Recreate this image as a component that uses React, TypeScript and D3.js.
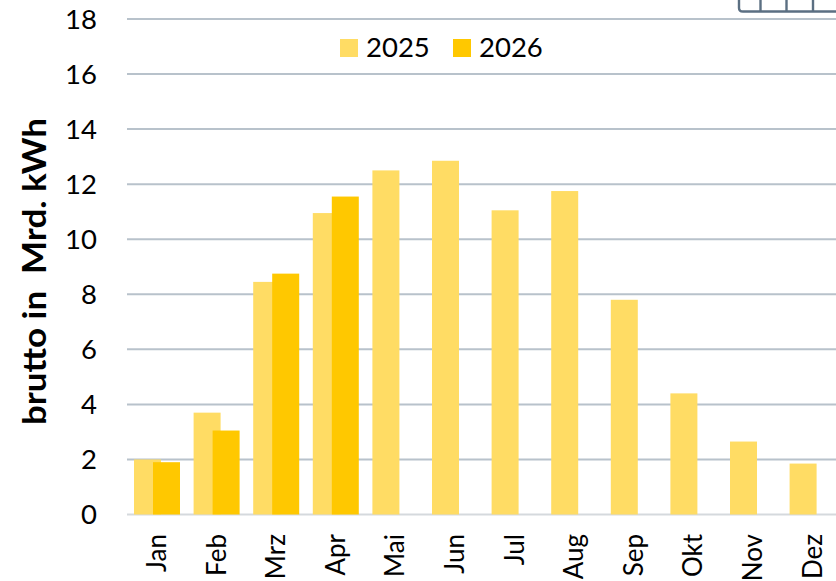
import React from "react";
import * as d3 from "d3";

const months = ["Jan", "Feb", "Mrz", "Apr", "Mai", "Jun", "Jul", "Aug", "Sep", "Okt", "Nov", "Dez"];
const values2025 = [2.0, 3.7, 8.45, 10.95, 12.5, 12.85, 11.05, 11.75, 7.8, 4.4, 2.65, 1.85];
const values2026 = [1.9, 3.05, 8.75, 11.55];
const yTicks = [0, 2, 4, 6, 8, 10, 12, 14, 16, 18];
const legendYears = ["2025", "2026"];

const C25 = "#ffdc64";
const C26 = "#ffc800";
const FONT = "Lato, Carlito, sans-serif";

export default function App() {
  const y = d3.scaleLinear().domain([0, 18]).range([514.5, 19]);
  const x = d3.scaleBand().domain(months).range([127.2, 842.4]);
  const c = (m: string) => (x(m) as number) + x.bandwidth() / 2;
  const barW = 27;
  const off = 9.5;
  const tableBottom = d3.path();
  tableBottom.moveTo(739, 0);
  tableBottom.lineTo(739, 8);
  tableBottom.quadraticCurveTo(739, 11.5, 743, 11.5);
  tableBottom.lineTo(840, 11.5);
  return (
    <svg width={836} height={581} style={{ position: "absolute", left: 0, top: 0, background: "#fff" }} fontFamily={FONT}>
      {yTicks.map((t) => (
        <g key={t}>
          <line x1={127} x2={836} y1={y(t)} y2={y(t)} stroke={t === 0 ? "#d5d9dd" : "#b8c2cb"} strokeWidth={2} />
          <text x={97} y={y(t) + 9.5} textAnchor="end" fontSize={27.5} fill="#000">{t}</text>
        </g>
      ))}
      <path d={tableBottom.toString()} fill="none" stroke="#5b6f82" strokeWidth={2.4} />
      {[760.5, 786.5, 813].map((vx) => (
        <line key={vx} x1={vx} x2={vx} y1={0} y2={11.5} stroke="#5b6f82" strokeWidth={2.4} />
      ))}
      {months.map((m, i) => (
        <rect key={m} x={c(m) - off - barW / 2} y={y(values2025[i])} width={barW} height={y(0) - y(values2025[i])} fill={C25} />
      ))}
      {values2026.map((v, i) => (
        <rect key={months[i]} x={c(months[i]) + off - barW / 2} y={y(v)} width={barW} height={y(0) - y(v)} fill={C26} />
      ))}
      {months.map((m) => (
        <text key={m} transform={`translate(${c(m) + 9},534) rotate(-90)`} textAnchor="end" fontSize={26} fill="#000">{m}</text>
      ))}
      <text transform="translate(46,271.5) rotate(-90)" textAnchor="middle" fontSize={33} fontWeight={700} fill="#000" xmlSpace="preserve" textLength={307} lengthAdjust="spacingAndGlyphs">brutto in  Mrd. kWh</text>
      {legendYears.map((yr, i) => (
        <g key={yr}>
          <rect x={340 + i * 113} y={39} width={18} height={18} fill={i === 0 ? C25 : C26} />
          <text x={366 + i * 113} y={57} fontSize={27.5} fill="#000">{yr}</text>
        </g>
      ))}
    </svg>
  );
}
